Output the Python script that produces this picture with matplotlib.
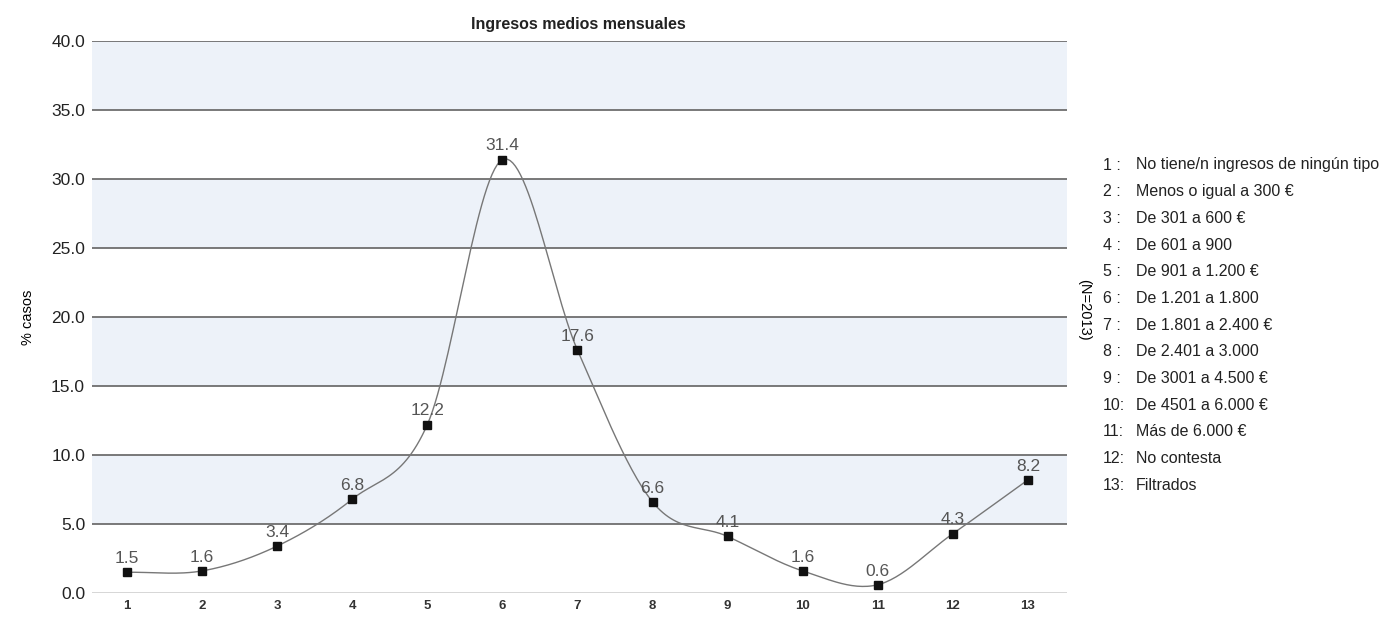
import numpy as np
import matplotlib.pyplot as plt

plt.rcParams['font.family'] = ['Liberation Sans', 'DejaVu Sans']

categorias = list(range(1, 14))
porcentajes = [1.5, 1.6, 3.4, 6.8, 12.2, 31.4, 17.6, 6.6, 4.1, 1.6, 0.6, 4.3, 8.2]
leyenda = [
    "No tiene/n ingresos de ningún tipo",
    "Menos o igual a 300 €",
    "De 301 a 600 €",
    "De 601 a 900",
    "De 901 a 1.200 €",
    "De 1.201 a 1.800",
    "De 1.801 a 2.400 €",
    "De 2.401 a 3.000",
    "De 3001 a 4.500 €",
    "De 4501 a 6.000 €",
    "Más de 6.000 €",
    "No contesta",
    "Filtrados",
]


def curva_suave(x, y, n=30):
    # spline tipo Catmull-Rom para la linea suavizada
    x = np.asarray(x, float)
    y = np.asarray(y, float)
    px = np.concatenate([[2 * x[0] - x[1]], x, [2 * x[-1] - x[-2]]])
    py = np.concatenate([[2 * y[0] - y[1]], y, [2 * y[-1] - y[-2]]])
    xs, ys = [], []
    t = np.linspace(0, 1, n)
    for i in range(1, len(px) - 2):
        for p, out in ((px, xs), (py, ys)):
            p0, p1, p2, p3 = p[i - 1], p[i], p[i + 1], p[i + 2]
            out.extend(0.5 * ((2 * p1) + (-p0 + p2) * t
                              + (2 * p0 - 5 * p1 + 4 * p2 - p3) * t ** 2
                              + (-p0 + 3 * p1 - 3 * p2 + p3) * t ** 3))
    return np.array(xs), np.array(ys)


W, H = 1386, 618
fig = plt.figure(figsize=(W / 100, H / 100), dpi=100)
ax = fig.add_axes([92 / W, 1 - 593 / H, (1067 - 92) / W, (593 - 41) / H])

# bandas alternas
for i in range(8):
    color = "#edf2f9" if i % 2 == 1 else "#ffffff"
    ax.axhspan(i * 5, i * 5 + 5, color=color, zorder=0, lw=0)
for v in range(5, 45, 5):
    ax.axhline(v, color="#6e6e6e", lw=1.3, zorder=1)
ax.axhline(0, color="#d0d0d0", lw=1.2, zorder=1)

xs, ys = curva_suave(categorias, porcentajes)
ax.plot(xs, ys, color="#777777", lw=1, zorder=2)
ax.plot(categorias, porcentajes, "s", color="#111111", ms=6, zorder=3)
for x, y in zip(categorias, porcentajes):
    ax.text(x, y + 0.45, f"{y:.1f}", ha="center", va="bottom",
            fontsize=12.5, color="#555555", zorder=4)

ax.set_xlim(0.534, 13.52)
ax.set_ylim(0, 40)
ax.set_xticks(categorias)
ax.set_xticklabels([str(c) for c in categorias], fontsize=9.5,
                   fontweight="bold", color="#333333")
ax.set_yticks(np.arange(0, 45, 5))
ax.set_yticklabels([f"{v:.1f}" for v in range(0, 45, 5)], fontsize=12.5,
                   color="#222222")
ax.tick_params(axis="both", length=0, pad=5)
for s in ax.spines.values():
    s.set_visible(False)
ax.set_ylabel("% casos", fontsize=10.5)
ax.yaxis.set_label_coords(-0.058, 0.5)

fig.text(578 / W, 1 - 24 / H, "Ingresos medios mensuales", ha="center",
         va="center", fontsize=11.5, fontweight="bold", color="#222222")

fig.text(1084 / W, 1 - 310 / H, "(N=2013)", rotation=-90,
         ha="center", va="center", fontsize=10.5)

y0 = 165
for i, (c, txt) in enumerate(zip(categorias, leyenda)):
    yy = 1 - (y0 + i * 26.7) / H
    num = f"{c} :" if c < 10 else f"{c}:"
    fig.text(1103 / W, yy, num, ha="left", va="center", fontsize=11.5,
             color="#222222")
    fig.text(1136 / W, yy, txt, ha="left", va="center", fontsize=11.5,
             color="#222222")

fig.savefig("out.png", dpi=100)
